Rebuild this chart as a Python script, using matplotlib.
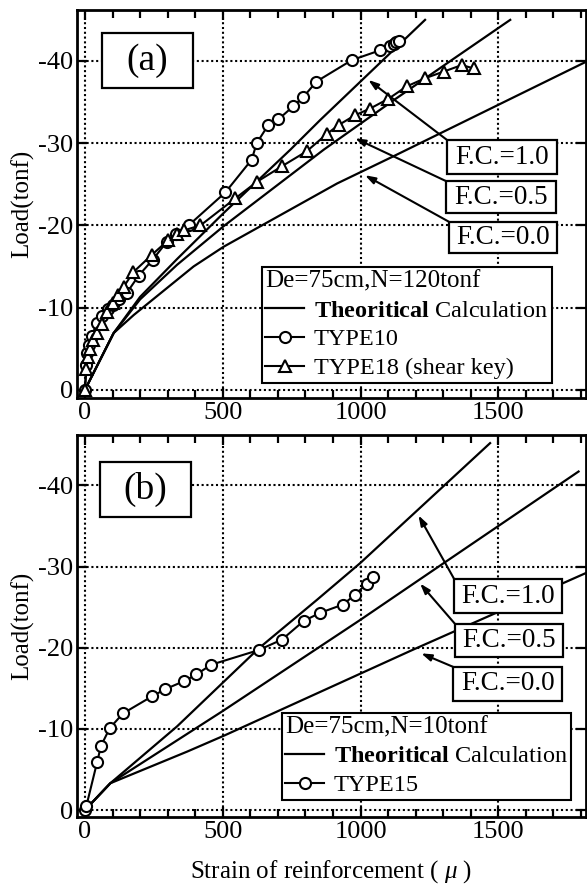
import numpy as np
import matplotlib
matplotlib.use('Agg')
import matplotlib.pyplot as plt
from matplotlib.patches import Rectangle

plt.rcParams['font.family'] = ['Liberation Serif', 'DejaVu Serif']
plt.rcParams['mathtext.fontset'] = 'custom'
plt.rcParams['mathtext.rm'] = 'Liberation Serif'
plt.rcParams['mathtext.bf'] = 'Liberation Serif:bold'
plt.rcParams['mathtext.it'] = 'Liberation Serif:italic'
plt.rcParams['axes.unicode_minus'] = False

# ---------------- data ----------------
xticks = [0, 500, 1000, 1500]
xtick_labels = ["0", "500", "1000", "1500"]
yticks = [-40, -30, -20, -10, 0]
ytick_labels = ["-40", "-30", "-20", "-10", "0"]

# panel (a) theoretical curves
fc10_a_x = [0, 104, 200, 334, 503, 745, 853, 1234]
fc10_a_y = [0, -6.9, -11.3, -15.9, -21.5, -29.2, -32.8, -45.0]
fc05_a_x = [0, 104, 200, 334, 503, 866, 1119, 1313, 1543]
fc05_a_y = [0, -6.9, -11.0, -15.2, -19.9, -29.2, -35.2, -39.7, -45.0]
fc00_a_x = [0, 104, 177, 394, 503, 915, 1119, 1818]
fc00_a_y = [0, -6.9, -9.1, -15.0, -17.4, -25.1, -28.4, -39.9]

# panel (a) TYPE10 measured
t10_x = [0, 4, 8, 15, 25, 42, 60, 85, 103, 125, 152, 195, 245, 297, 330, 376,
         509, 605, 623, 665, 702, 756, 792, 840, 968, 1071, 1105, 1120, 1130, 1140]
t10_y = [0, -3.0, -4.5, -5.5, -6.5, -8.1, -9.0, -9.8, -10.3, -11.0, -11.8, -13.9,
         -15.8, -18.0, -19.0, -20.0, -24.0, -28.0, -30.0, -32.2, -32.9, -34.5,
         -35.6, -37.5, -40.1, -41.3, -41.8, -42.1, -42.3, -42.4]

# panel (a) TYPE18 (shear key) measured
t18_x = [0, 5, 10, 18, 30, 42, 60, 80, 100, 120, 140, 175, 242, 302, 333, 360,
         419, 546, 624, 715, 804, 877, 920, 980, 1034, 1101, 1167, 1234, 1301,
         1367, 1410]
t18_y = [0, -2.5, -4.0, -5.0, -6.0, -6.9, -8.0, -9.5, -10.5, -11.5, -12.5, -14.3,
         -16.4, -18.2, -19.0, -19.4, -20.0, -23.3, -25.3, -27.2, -29.0, -31.1,
         -32.2, -33.4, -34.2, -35.4, -36.9, -37.9, -38.7, -39.5, -39.1]

# panel (b) theoretical curves
fc10_b_x = [0, 92, 334, 630, 842, 998, 1470]
fc10_b_y = [0, -3.3, -10.3, -19.9, -25.9, -30.4, -45.2]
fc05_b_x = [0, 92, 500, 998, 1301, 1791]
fc05_b_y = [0, -3.3, -12.2, -23.4, -30.4, -41.7]
fc00_b_x = [0, 92, 371, 507, 1187, 1818]
fc00_b_y = [0, -3.3, -7.2, -9.2, -19.7, -29.2]

# panel (b) TYPE15 measured
t15_x = [0, 5, 44, 58, 90, 138, 243, 292, 361, 404, 458, 630, 715, 794, 854,
         935, 980, 1022, 1044]
t15_y = [0, -0.5, -5.9, -7.9, -10.1, -11.9, -14.0, -14.9, -15.9, -16.7, -17.9,
         -19.7, -21.0, -23.3, -24.3, -25.3, -26.5, -27.9, -28.7]

fc_labels = ["F.C.=1.0", "F.C.=0.5", "F.C.=0.0"]

# ---------------- figure ----------------
W, H = 587, 892
fig = plt.figure(figsize=(W / 100, H / 100), dpi=100)
ax1 = fig.add_axes([77 / W, (H - 398) / H, 509 / W, 388 / H])
ax2 = fig.add_axes([77 / W, (H - 817) / H, 509 / W, 382 / H])

def style(ax, ybottom):
    ax.set_xlim(-29, 1818)
    ax.set_ylim(ybottom, -46.2)
    ax.set_xticks(xticks)
    ax.set_xticklabels(xtick_labels)
    ax.set_xticks(np.arange(100, 1801, 100), minor=True)
    ax.set_yticks(yticks)
    ax.set_yticklabels(ytick_labels)
    ax.tick_params(which='both', direction='in', top=True, right=True,
                   labelsize=19, width=1.6, pad=3)
    ax.tick_params(which='major', length=7)
    ax.tick_params(which='minor', length=6)
    ax.grid(True, which='major', color='black', linestyle=(0, (1, 1.3)),
            linewidth=1.5)
    ax.set_axisbelow(True)
    for s in ax.spines.values():
        s.set_linewidth(2.0)
    ax.set_ylabel('Load(tonf)', fontsize=18)
    ax.yaxis.set_label_coords(-0.085, 0.5)

style(ax1, 1.0)
style(ax2, 0.86)

lkw = dict(color='black', lw=1.6, zorder=2)
mkw = dict(color='black', lw=1.5, ms=8, mfc='white', mec='black', mew=1.5, zorder=3)

# panel (a)
th_a, = ax1.plot(fc10_a_x, fc10_a_y, **lkw)
ax1.plot(fc05_a_x, fc05_a_y, **lkw)
ax1.plot(fc00_a_x, fc00_a_y, **lkw)
l10, = ax1.plot(t10_x, t10_y, marker='o', **mkw)
l18, = ax1.plot(t18_x, t18_y, marker='^', **mkw)

# panel (b)
th_b, = ax2.plot(fc10_b_x, fc10_b_y, **lkw)
ax2.plot(fc05_b_x, fc05_b_y, **lkw)
ax2.plot(fc00_b_x, fc00_b_y, **lkw)
l15, = ax2.plot(t15_x, t15_y, marker='o', **mkw)

theo_label = r"$\mathbf{Theoritical}$ Calculation"
legkw = dict(loc='lower left', frameon=True, fancybox=False, edgecolor='black',
             framealpha=1, fontsize=17.5, title_fontsize=18, handlelength=1.6,
             handletextpad=0.4, labelspacing=0.28, borderpad=0.15,
             borderaxespad=0, alignment='left')
lg1 = ax1.legend([th_a, l10, l18], [theo_label, "TYPE10", "TYPE18 (shear key)"],
                 title="De=75cm,N=120tonf", bbox_to_anchor=(0.363, 0.039), **legkw)
lg1.get_frame().set_linewidth(1.5)
lg1.set_zorder(10)
lg2 = ax2.legend([th_b, l15], [theo_label, "TYPE15"],
                 title="De=75cm,N=10tonf", bbox_to_anchor=(0.402, 0.045), **legkw)
lg2.get_frame().set_linewidth(1.5)
lg2.set_zorder(10)

def label_box(ax, x0, x1, y0, y1, text, fs):
    ax.add_patch(Rectangle((x0, y0), x1 - x0, y1 - y0, transform=ax.transAxes,
                           facecolor='white', edgecolor='black', lw=1.6, zorder=6))
    ax.text((x0 + x1) / 2, (y0 + y1) / 2, text, transform=ax.transAxes,
            ha='center', va='center', fontsize=fs, zorder=7)

label_box(ax1, 0.049, 0.227, 0.799, 0.941, "(a)", 27)
label_box(ax2, 0.045, 0.224, 0.786, 0.930, "(b)", 27)

# F.C. boxes (axes fraction) and arrows
boxes_a = [(0.727, 0.943, 0.577, 0.665), (0.725, 0.941, 0.477, 0.559), (0.731, 0.943, 0.374, 0.454)]
heads_a = [(1028, -37.7), (980, -30.6), (1016, -26.1)]
tails_a = [(0.727, 0.665), (0.725, 0.559), (0.731, 0.454)]
boxes_b = [(0.741, 0.953, 0.534, 0.623), (0.743, 0.955, 0.419, 0.505), (0.739, 0.953, 0.304, 0.393)]
heads_b = [(1210, -36.3), (1216, -27.9), (1220, -19.3)]
tails_b = [(0.741, 0.623), (0.743, 0.505), (0.739, 0.393)]

arrow = dict(arrowstyle='-|>,head_length=0.6,head_width=0.2', color='black',
             lw=1.5, shrinkA=0, shrinkB=0)
for ax, boxes, heads, tails in [(ax1, boxes_a, heads_a, tails_a), (ax2, boxes_b, heads_b, tails_b)]:
    for (x0, x1, y0, y1), h, t, lab in zip(boxes, heads, tails, fc_labels):
        ax.annotate('', xy=h, xycoords='data', xytext=t, textcoords='axes fraction',
                    arrowprops=arrow, zorder=5)
        label_box(ax, x0, x1, y0, y1, lab, 19.5)

ax2.set_xlabel(r"Strain of reinforcement ( $\mu$ )", fontsize=18, labelpad=11)

fig.savefig('out.png', dpi=100)
